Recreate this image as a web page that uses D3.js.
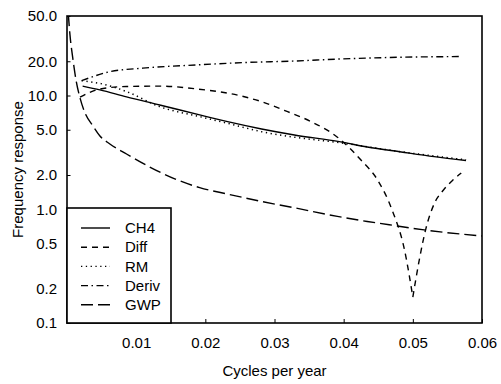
<!DOCTYPE html>
<html>
<head>
<meta charset="utf-8">
<script src="https://cdn.jsdelivr.net/npm/d3@7"></script>
<style>
  body { margin: 0; background: #fff; }
  svg text { font-family: "Liberation Sans", Arial, Helvetica, sans-serif; font-size: 15px; fill: #000; }
</style>
</head>
<body>
<div id="chart"></div>
<script>
// data (cycles per year -> response)
var ch4Freq = [0.00226, 0.00476, 0.00861, 0.01341, 0.01918, 0.02322, 0.02813, 0.03288, 0.03938, 0.04341, 0.04832, 0.05308, 0.05769];
var ch4Vals = [12.1, 11.2, 9.72, 8.26, 6.75, 5.89, 5.08, 4.50, 3.93, 3.53, 3.19, 2.90, 2.68];

var diffFreq = [0.00188, 0.00476, 0.00861, 0.0134, 0.0189, 0.0232, 0.0281, 0.0319, 0.0353, 0.0391, 0.0425, 0.0449, 0.0470, 0.0488, 0.0500, 0.0509, 0.0519, 0.0531, 0.0544, 0.0557, 0.0570];
var diffVals = [9.66, 11.4, 12.0, 12.1, 11.4, 10.5, 8.84, 7.21, 5.89, 4.30, 2.71, 1.81, 0.986, 0.438, 0.169, 0.350, 0.680, 1.12, 1.47, 1.78, 2.08];

var rmFreq = [0.00212, 0.00332, 0.00519, 0.00865, 0.0134, 0.0192, 0.0232, 0.0281, 0.0329, 0.0394, 0.0480, 0.0577];
var rmVals = [13.5, 13.2, 12.6, 10.8, 7.98, 6.52, 5.70, 4.81, 4.30, 3.85, 3.22, 2.72];

var derivFreq = [0.00212, 0.0062, 0.01096, 0.0189, 0.0257, 0.0329, 0.0391, 0.0483, 0.0570];
var derivVals = [13.5, 16.2, 17.4, 18.6, 19.5, 20.1, 20.9, 21.7, 22.0];

var gwpFreq = [0.00019, 0.00043, 0.00087, 0.0013, 0.00188, 0.0026, 0.00375, 0.00476, 0.0062, 0.00861, 0.01197, 0.01558, 0.01918, 0.02322, 0.02813, 0.03288, 0.03909, 0.04341, 0.04774, 0.05163, 0.06];
var gwpVals = [52, 34.1, 20.6, 13.7, 9.53, 7.03, 5.41, 4.41, 3.75, 3.06, 2.35, 1.85, 1.55, 1.36, 1.17, 1.03, 0.865, 0.781, 0.713, 0.658, 0.582];

var seriesNames = ["CH4", "Diff", "RM", "Deriv", "GWP"];
var xTicks = [0.01, 0.02, 0.03, 0.04, 0.05, 0.06];
var yTicks = [0.1, 0.2, 0.5, 1, 2, 5, 10, 20, 50];

var svgWidth = 501;
var svgHeight = 384;
var margin = { top: 16, right: 19, bottom: 61, left: 67 };
var width = svgWidth - margin.left - margin.right;
var height = svgHeight - margin.top - margin.bottom;

var svg = d3.select("#chart").append("svg")
    .attr("width", svgWidth)
    .attr("height", svgHeight);

var chartGroup = svg.append("g")
    .attr("transform", `translate(${margin.left}, ${margin.top})`);

var x = d3.scaleLinear().domain([0, 0.06]).range([0, width]);
var y = d3.scaleLog().domain([0.1, 50]).range([height, 0]);

// dash styles per series
var dashes = {
  CH4: null,
  Diff: "6,5",
  RM: "1.3,3.5",
  Deriv: "7,3.5,1.5,3.5",
  GWP: "12,5"
};

var series = [
  { name: "CH4", f: ch4Freq, v: ch4Vals },
  { name: "Diff", f: diffFreq, v: diffVals },
  { name: "RM", f: rmFreq, v: rmVals },
  { name: "Deriv", f: derivFreq, v: derivVals },
  { name: "GWP", f: gwpFreq, v: gwpVals }
];

chartGroup.append("clipPath").attr("id", "clip")
  .append("rect").attr("width", width).attr("height", height);

var line = d3.line()
    .x(d => x(d[0]))
    .y(d => y(d[1]))
    .curve(d3.curveMonotoneX);

var curves = chartGroup.append("g").attr("clip-path", "url(#clip)");
series.forEach(function(s) {
  var pts = s.f.map((f, i) => [f, s.v[i]]);
  // the Diff curve has a sharp notch: draw both sides of the minimum separately
  var parts = [pts];
  if (s.name === "Diff") {
    var iMin = d3.minIndex(s.v);
    parts = [pts.slice(0, iMin + 1), pts.slice(iMin)];
  }
  parts.forEach(function(p) {
    curves.append("path")
      .datum(p)
      .attr("fill", "none")
      .attr("stroke", "#000")
      .attr("stroke-width", s.name === "RM" ? 1.5 : 1.4)
      .attr("stroke-dasharray", dashes[s.name])
      .attr("d", line);
  });
});

// axes
var leftAxis = d3.axisLeft(y)
    .tickValues(yTicks)
    .tickFormat(d3.format(".1f"))
    .tickSize(-3.5)
    .tickPadding(10);

var bottomAxis = d3.axisBottom(x)
    .tickValues(xTicks)
    .tickFormat(d3.format(".2f"))
    .tickSize(-4)
    .tickPadding(14);

var yAxisG = chartGroup.append("g").call(leftAxis);
var xAxisG = chartGroup.append("g")
    .attr("transform", `translate(0, ${height})`)
    .call(bottomAxis);

[yAxisG, xAxisG].forEach(function(g) {
  g.attr("font-size", null).attr("font-family", null);
  g.select(".domain").remove();
  g.selectAll("line").attr("stroke", "#000").attr("stroke-width", 1);
});

// frame
chartGroup.append("rect")
    .attr("width", width)
    .attr("height", height)
    .attr("fill", "none")
    .attr("stroke", "#000")
    .attr("stroke-width", 1.6);

// legend
var legend = chartGroup.append("g");
legend.append("rect")
    .attr("x", 0)
    .attr("y", 192)
    .attr("width", 104)
    .attr("height", height - 192)
    .attr("fill", "#fff")
    .attr("stroke", "#000")
    .attr("stroke-width", 1.6);

seriesNames.forEach(function(name, i) {
  var ly = 212 + i * 19.2;
  legend.append("line")
    .attr("x1", 14).attr("x2", 43)
    .attr("y1", ly).attr("y2", ly)
    .attr("stroke", "#000")
    .attr("stroke-width", 1.4)
    .attr("stroke-dasharray", dashes[name]);
  legend.append("text")
    .attr("x", 58)
    .attr("y", ly)
    .attr("dy", "0.35em")
    .text(name);
});

// axis titles
chartGroup.append("text")
    .attr("x", width / 2)
    .attr("y", height + 53)
    .attr("text-anchor", "middle")
    .text("Cycles per year");

chartGroup.append("text")
    .attr("transform", "rotate(-90)")
    .attr("x", -height / 2)
    .attr("y", -44)
    .attr("text-anchor", "middle")
    .text("Frequency response");
</script>
</body>
</html>
